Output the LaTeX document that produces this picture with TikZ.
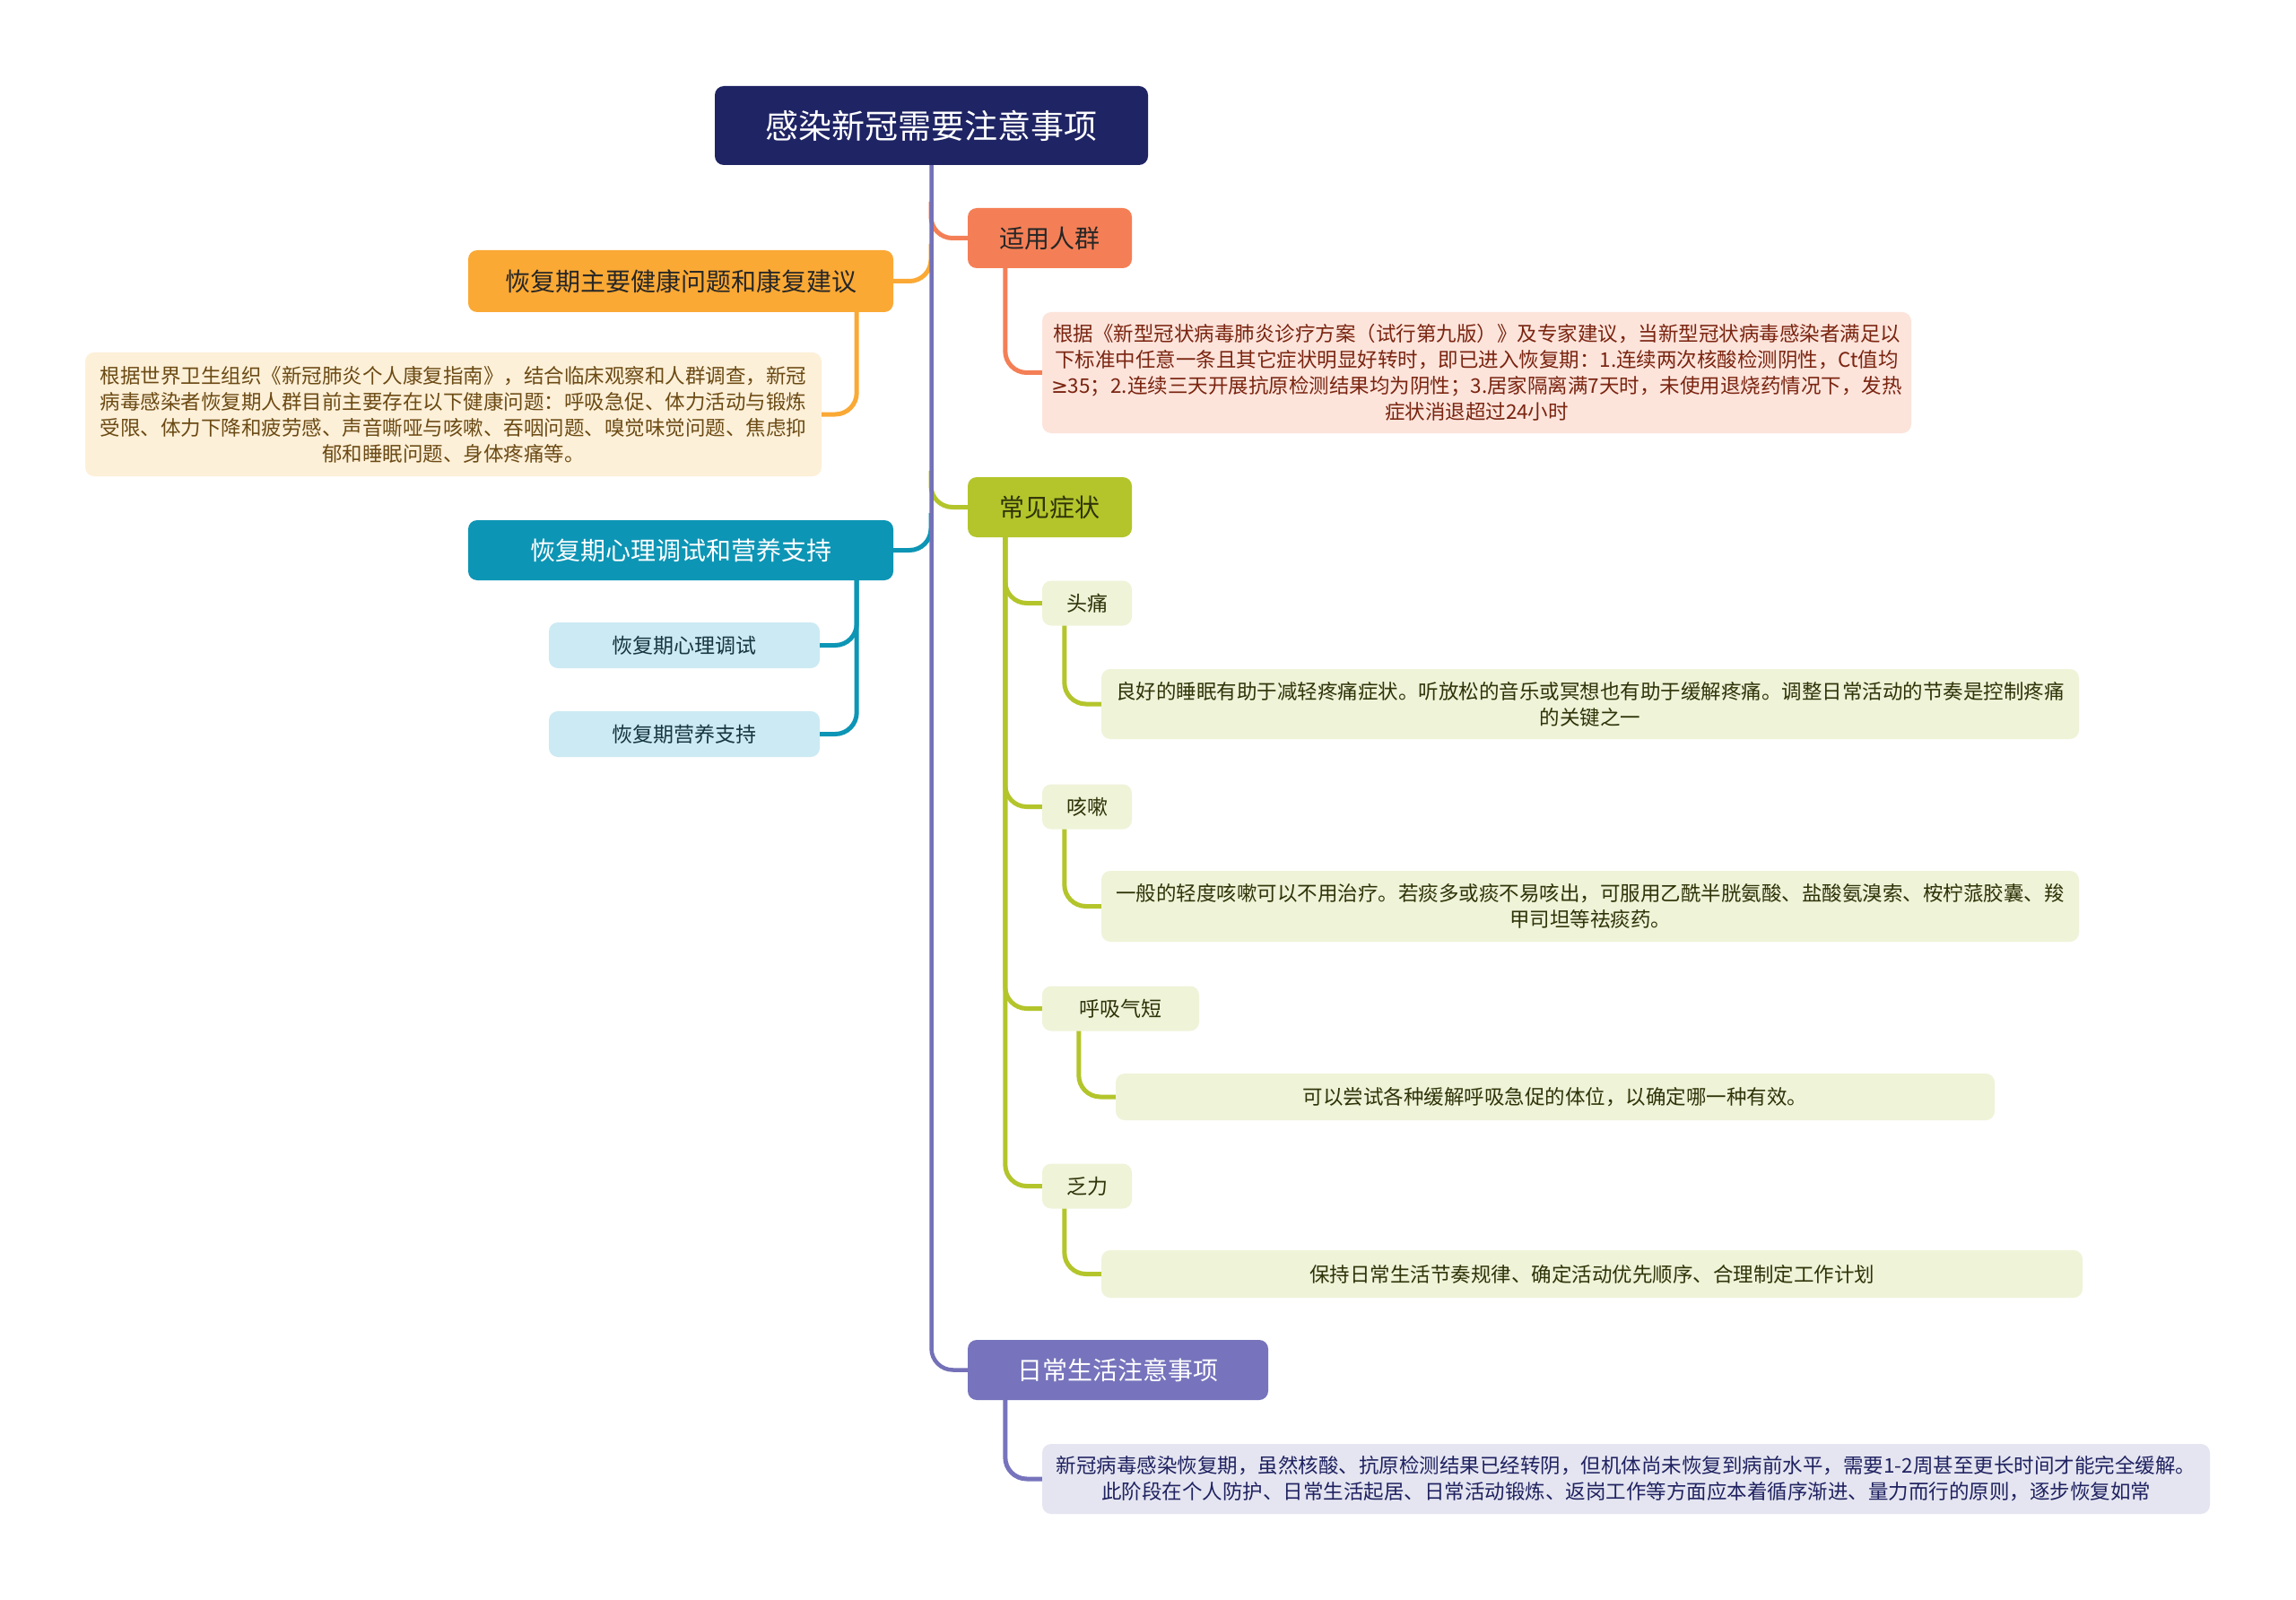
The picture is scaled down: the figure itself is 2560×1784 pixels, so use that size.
\documentclass[tikz,border=0pt]{standalone}
\usepackage{fontspec}
\newfontfamily\cjk{Noto Sans CJK SC}
\newfontfamily\symf{DejaVu Sans}
\definecolor{rootc}{HTML}{1F2464}
\definecolor{trunkc}{HTML}{7471B8}
\definecolor{syc}{HTML}{F47F56}
\definecolor{syleafc}{HTML}{FCE4DB}
\definecolor{sytext}{HTML}{7A2410}
\definecolor{cjc}{HTML}{B3C52B}
\definecolor{cjsub}{HTML}{EFF3D8}
\definecolor{cjtext}{HTML}{2F3308}
\definecolor{rcc}{HTML}{7774BD}
\definecolor{rcleafc}{HTML}{E5E5F1}
\definecolor{rctext}{HTML}{1F2260}
\definecolor{hfc}{HTML}{FAA935}
\definecolor{hfleafc}{HTML}{FDF0D8}
\definecolor{hftext}{HTML}{6B4A14}
\definecolor{xlc}{HTML}{0D95B5}
\definecolor{xlsub}{HTML}{CCEAF3}
\definecolor{xltext}{HTML}{153540}
\begin{document}
\begin{tikzpicture}[x=1pt,y=-1pt,
  box/.style={rounded corners=10pt, inner sep=0pt, align=center},
  rootbox/.style={box, fill=rootc, text=white, minimum width=483pt, minimum height=88pt, font={\cjk\fontsize{37}{44}\selectfont}},
  mainbox/.style={box, minimum height=67pt, font={\cjk\fontsize{28}{34}\selectfont}},
  subbox/.style={box, minimum height=50pt, font={\cjk\fontsize{23}{29}\selectfont}},
  leafbox/.style={box, font={\cjk\fontsize{22.5}{29}\selectfont}},
  conn/.style={line width=5pt, rounded corners=24pt},
]
\useasboundingbox (0,0) rectangle (2560,1784);
\fill[white] (0,0) rectangle (2560,1784);

% nodes
\node[rootbox] (root) at (1038.5,140) {感染新冠需要注意事项};

\node[mainbox, fill=syc, text=black!85, minimum width=183pt] (sy) at (1170.5,265.5) {适用人群};
\node[leafbox, fill=syleafc, text=sytext, minimum width=969pt, minimum height=135pt] (syleaf) at (1646.5,415.5)
  {根据《新型冠状病毒肺炎诊疗方案（试行第九版）》及专家建议，当新型冠状病毒感染者满足以\\
   下标准中任意一条且其它症状明显好转时，即已进入恢复期：1.连续两次核酸检测阴性，Ct值均\\
   {\symf ≥}35；2.连续三天开展抗原检测结果均为阴性；3.居家隔离满7天时，未使用退烧药情况下，发热\\
   症状消退超过24小时};

\node[mainbox, fill=cjc, text=cjtext, minimum width=183pt] (cj) at (1170.5,565.5) {常见症状};
\node[subbox, fill=cjsub, text=cjtext, minimum width=100pt] (tt) at (1212,672.5) {头痛};
\node[leafbox, fill=cjsub, text=cjtext, minimum width=1090pt, minimum height=78pt] (ttleaf) at (1773,785)
  {良好的睡眠有助于减轻疼痛症状。听放松的音乐或冥想也有助于缓解疼痛。调整日常活动的节奏是控制疼痛\\
   的关键之一};
\node[subbox, fill=cjsub, text=cjtext, minimum width=100pt] (ks) at (1212,899.5) {咳嗽};
\node[leafbox, fill=cjsub, text=cjtext, minimum width=1090pt, minimum height=79pt] (ksleaf) at (1773,1010.5)
  {一般的轻度咳嗽可以不用治疗。若痰多或痰不易咳出，可服用乙酰半胱氨酸、盐酸氨溴索、桉柠蒎胶囊、羧\\
   甲司坦等祛痰药。};
\node[subbox, fill=cjsub, text=cjtext, minimum width=175pt] (hx) at (1249.5,1124.5) {呼吸气短};
\node[leafbox, fill=cjsub, text=cjtext, minimum width=980pt, minimum height=52pt] (hxleaf) at (1734,1223)
  {可以尝试各种缓解呼吸急促的体位，以确定哪一种有效。};
\node[subbox, fill=cjsub, text=cjtext, minimum width=100pt] (fl) at (1212,1322.5) {乏力};
\node[leafbox, fill=cjsub, text=cjtext, minimum width=1094pt, minimum height=53pt] (flleaf) at (1775,1420.5)
  {保持日常生活节奏规律、确定活动优先顺序、合理制定工作计划};

\node[mainbox, fill=rcc, text=white, minimum width=335pt] (rc) at (1246.5,1527.5) {日常生活注意事项};
\node[leafbox, fill=rcleafc, text=rctext, minimum width=1302pt, minimum height=78pt] (rcleaf) at (1813,1649)
  {新冠病毒感染恢复期，虽然核酸、抗原检测结果已经转阴，但机体尚未恢复到病前水平，需要1-2周甚至更长时间才能完全缓解。\\
   此阶段在个人防护、日常生活起居、日常活动锻炼、返岗工作等方面应本着循序渐进、量力而行的原则，逐步恢复如常};

\node[mainbox, fill=hfc, text=black!85, minimum width=474pt, minimum height=69pt] (hf) at (759,313.5) {恢复期主要健康问题和康复建议};
\node[leafbox, fill=hfleafc, text=hftext, minimum width=821pt, minimum height=138pt] (hfleaf) at (505.5,462)
  {根据世界卫生组织《新冠肺炎个人康复指南》，结合临床观察和人群调查，新冠\\
   病毒感染者恢复期人群目前主要存在以下健康问题：呼吸急促、体力活动与锻炼\\
   受限、体力下降和疲劳感、声音嘶哑与咳嗽、吞咽问题、嗅觉味觉问题、焦虑抑\\
   郁和睡眠问题、身体疼痛等。};

\node[mainbox, fill=xlc, text=white, minimum width=474pt] (xl) at (759,613.5) {恢复期心理调试和营养支持};
\node[subbox, fill=xlsub, text=xltext, minimum width=302pt, minimum height=51pt] (xl1) at (763,719.5) {恢复期心理调试};
\node[subbox, fill=xlsub, text=xltext, minimum width=302pt, minimum height=51pt] (xl2) at (763,818.5) {恢复期营养支持};

% connectors
\coordinate (tr1) at (1038,225);
\coordinate (tr2) at (1038,525);
\coordinate (tl1) at (1038,272);
\coordinate (tl2) at (1038,572);
\draw[conn, draw=syc] (tr1) |- (sy.west);
\draw[conn, draw=cjc] (tr2) |- (cj.west);
\draw[conn, draw=hfc] (tl1) |- (hf.east);
\draw[conn, draw=xlc] (tl2) |- (xl.east);

\draw[conn, draw=syc] ([xshift=42pt]sy.south west) |- (syleaf.west);

\draw[conn, draw=cjc] ([xshift=42pt]cj.south west) |- (tt.west);
\draw[conn, draw=cjc] ([xshift=42pt]cj.south west) |- (ks.west);
\draw[conn, draw=cjc] ([xshift=42pt]cj.south west) |- (hx.west);
\draw[conn, draw=cjc] ([xshift=42pt]cj.south west) |- (fl.west);
\draw[conn, draw=cjc] ([xshift=25pt]tt.south west) |- (ttleaf.west);
\draw[conn, draw=cjc] ([xshift=25pt]ks.south west) |- (ksleaf.west);
\draw[conn, draw=cjc] ([xshift=41pt]hx.south west) |- (hxleaf.west);
\draw[conn, draw=cjc] ([xshift=25pt]fl.south west) |- (flleaf.west);

\draw[conn, draw=rcc] ([xshift=42pt]rc.south west) |- (rcleaf.west);

\draw[conn, draw=hfc] ([xshift=-41pt]hf.south east) |- (hfleaf.east);
\draw[conn, draw=xlc] ([xshift=-41pt]xl.south east) |- (xl1.east);
\draw[conn, draw=xlc] ([xshift=-41pt]xl.south east) |- (xl2.east);

\draw[conn, draw=trunkc, line width=4.5pt] (root.south) |- (rc.west);
\end{tikzpicture}
\end{document}
